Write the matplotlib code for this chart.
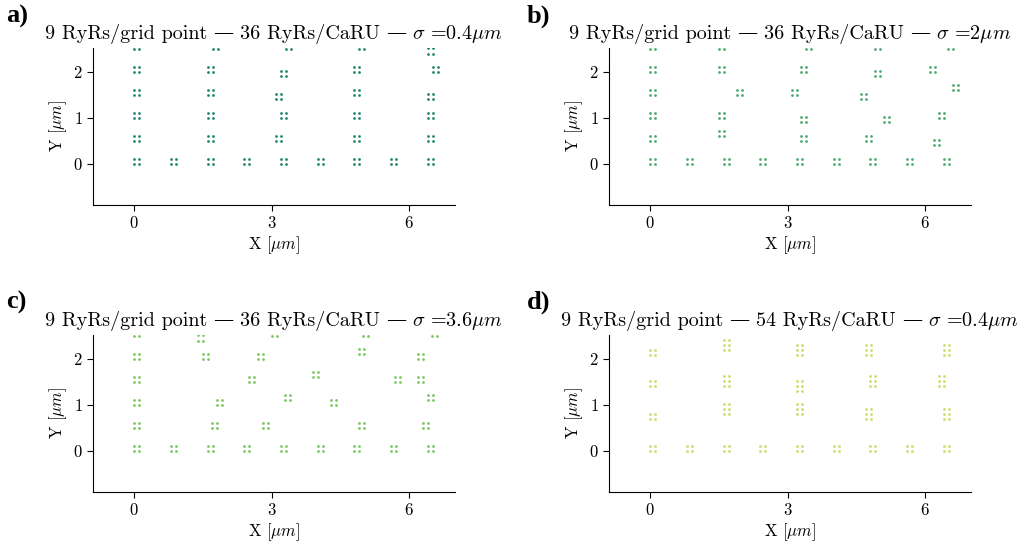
import numpy as np
import matplotlib
matplotlib.use("Agg")
import matplotlib.pyplot as plt
from matplotlib.offsetbox import TextArea, HPacker, AnchoredOffsetbox

plt.rcParams['font.family'] = ['cmr10', 'DejaVu Serif']
plt.rcParams['mathtext.fontset'] = 'cm'
plt.rcParams['axes.formatter.use_mathtext'] = True

# lower-left corner of every CaRU (X, Y in um)
bottom_x = [0.0, 0.8, 1.6, 2.4, 3.2, 4.0, 4.8, 5.6, 6.4]

a_x = [0.0, 0.0, 0.0, 0.0, 0.0, 1.6, 1.6, 1.6, 1.6, 1.71, 3.1, 3.2, 3.1, 3.2, 3.31,
       4.8, 4.8, 4.8, 4.8, 4.91, 6.4, 6.4, 6.4, 6.51, 6.4]
a_y = [0.5, 1.0, 1.5, 2.0, 2.5, 0.5, 1.0, 1.5, 2.0, 2.5, 0.5, 1.0, 1.4, 1.9, 2.5,
       0.5, 1.0, 1.5, 2.0, 2.5, 0.5, 1.0, 1.4, 2.0, 2.4]

b_x = [0.0, 0.0, 0.0, 0.0, 0.0, 1.5, 1.5, 1.9, 1.5, 1.5, 3.3, 3.3, 3.1, 3.3, 3.4,
       4.7, 5.1, 4.6, 4.9, 4.9, 6.2, 6.3, 6.6, 6.1, 6.5]
b_y = [0.5, 1.0, 1.5, 2.0, 2.5, 0.6, 1.0, 1.5, 2.0, 2.5, 0.5, 0.9, 1.5, 2.0, 2.5,
       0.5, 0.9, 1.4, 1.9, 2.5, 0.4, 1.0, 1.6, 2.0, 2.5]

c_x = [0.0, 0.0, 0.0, 0.0, 0.0, 1.7, 1.8, 2.5, 1.5, 1.4, 2.8, 3.3, 3.9, 2.7, 3.0,
       4.9, 4.3, 5.7, 4.9, 5.0, 6.3, 6.4, 6.2, 6.2, 6.5]
c_y = [0.5, 1.0, 1.5, 2.0, 2.5, 0.5, 1.0, 1.5, 2.0, 2.4, 0.5, 1.1, 1.6, 2.0, 2.5,
       0.5, 1.0, 1.5, 2.1, 2.5, 0.5, 1.1, 1.5, 2.0, 2.5]

d_x = [0.0, 0.0, 0.0, 1.6, 1.6, 1.6, 3.2, 3.2, 3.2, 4.7, 4.8, 4.7, 6.4, 6.3, 6.4]
d_y = [0.69, 1.4, 2.09, 0.8, 1.4, 2.2, 0.8, 1.29, 2.09, 0.69, 1.4, 2.09, 0.69, 1.4, 2.09]
d_rows = [2, 2, 2, 3, 3, 3, 3, 3, 3, 3, 3, 3, 3, 3, 3]

# title parts: RyRs per grid point, RyRs per CaRU, sigma
ryr_grid = ["9", "9", "9", "9"]
ryr_caru = ["36", "36", "36", "54"]
sigmas = ["0.4", "2", "3.6", "0.4"]
letters = ["a)", "b)", "c)", "d)"]
colors = ["#20886e", "#4dac70", "#7dc862", "#c6e16a"]

step = 0.11  # spacing between grid points inside a CaRU


def expand(xs, ys, rows):
    px, py = [], []
    for x, y, r in zip(xs, ys, rows):
        for i in range(2):
            for j in range(r):
                px.append(x + i * step)
                py.append(y + j * step)
    return px, py


def title_box(k, size):
    cm = dict(fontsize=size, family='cmr10')
    dash = dict(fontsize=size, family='DejaVu Serif')
    parts = [
        TextArea(ryr_grid[k] + " RyRs/grid point", textprops=cm),
        TextArea("\u2014", textprops=dash),
        TextArea(ryr_caru[k] + " RyRs/CaRU", textprops=cm),
        TextArea("\u2014", textprops=dash),
        TextArea(r"$\sigma$ =" + sigmas[k] + r"$\mu m$", textprops=cm),
    ]
    return HPacker(children=parts, align='baseline', pad=0, sep=4.5)


panels = [
    (bottom_x + a_x, [0.0] * 9 + a_y, [2] * 34),
    (bottom_x + b_x, [0.0] * 9 + b_y, [2] * 34),
    (bottom_x + c_x, [0.0] * 9 + c_y, [2] * 34),
    (bottom_x + d_x, [0.0] * 9 + d_y, [2] * 9 + d_rows),
]

fig = plt.figure(figsize=(10.3, 5.49), dpi=100)
W, H = 1030, 549
boxes = [(93, 48), (609, 48), (93, 335), (609, 335)]
label_pos = [(6, 16), (527, 16), (6, 302), (527, 302)]

for k, (xs, ys, rows) in enumerate(panels):
    left, top = boxes[k]
    ax = fig.add_axes([left / W, (H - top - 157) / H, 362 / W, 157 / H])
    px, py = expand(xs, ys, rows)
    ax.scatter(px, py, s=4, color=colors[k], linewidths=0)
    ax.set_xlim(-0.9, 7.0)
    ax.set_ylim(-0.9, 2.52)
    ax.set_xticks([0, 3, 6])
    ax.set_yticks([0, 1, 2])
    ax.spines['top'].set_visible(False)
    ax.spines['right'].set_visible(False)
    ax.tick_params(labelsize=12, length=4)
    ax.set_xlabel(r"X [$\mu m$]", fontsize=12, labelpad=2)
    ax.set_ylabel(r"Y [$\mu m$]", fontsize=12, labelpad=3)

    tb = AnchoredOffsetbox(loc='lower center', child=title_box(k, 14.5), pad=0,
                           borderpad=0, frameon=False,
                           bbox_to_anchor=(0.5, 1.0 + 3 / 157),
                           bbox_transform=ax.transAxes)
    tb.set_clip_on(False)
    ax.add_artist(tb)

    lx, ly = label_pos[k]
    fig.text(lx / W, 1 - ly / H, letters[k], fontsize=19, fontweight='bold',
             family='Liberation Serif', va='center', ha='left')

fig.savefig("out.png", dpi=100)
